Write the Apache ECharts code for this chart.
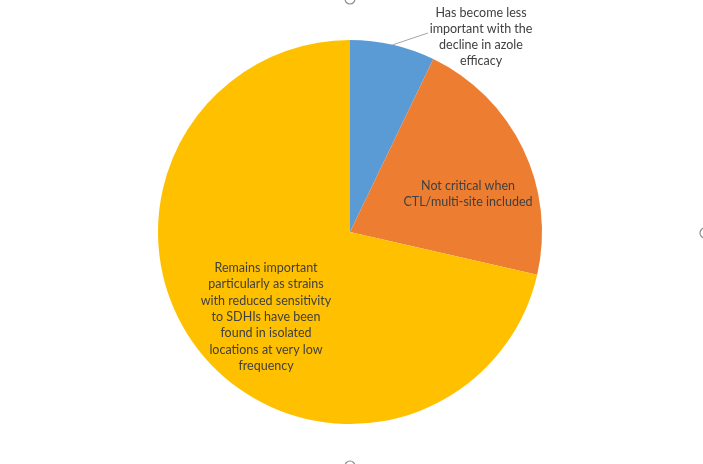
<!DOCTYPE html>
<html>
<head>
<meta charset="utf-8">
<script src="https://cdn.jsdelivr.net/npm/echarts@6/dist/echarts.min.js"></script>
<style>
  html, body { margin: 0; padding: 0; background: #fff; }
  #chart { width: 703px; height: 464px; }
</style>
</head>
<body>
<div id="chart"></div>
<script>
// answer categories and counts
const categories = [
  'Has become less\nimportant with the\ndecline in azole\nefficacy',
  'Not critical when\nCTL/multi-site included',
  'Remains important\nparticularly as strains\nwith reduced sensitivity\nto SDHIs have been\nfound in isolated\nlocations at very low\nfrequency'
];
const counts = [1, 3, 10];
const colors = ['#5B9BD5', '#ED7D31', '#FFC000'];

// where each label sits (centre of the text block)
const labelSpots = [[481, 37], [468, 194], [266, 317]];

const chart = echarts.init(document.getElementById('chart'));

chart.setOption({
  animation: false,
  series: [{
    type: 'pie',
    center: [350, 232],
    radius: 192,
    startAngle: 90,
    clockwise: true,
    label: {
      position: 'inside',
      color: '#404040',
      fontFamily: 'Lato',
      fontSize: 12.5,
      lineHeight: 16.3,
      align: 'center',
      formatter: '{b}'
    },
    labelLine: { show: false },
    labelLayout: function (p) {
      const s = labelSpots[p.dataIndex];
      const out = {
        x: s[0],
        y: s[1],
        align: 'center',
        verticalAlign: 'middle'
      };
      // straight leader from the slice edge to the left of the second text line
      if (p.dataIndex === 0 && p.labelLinePoints) {
        out.labelLinePoints = [p.labelLinePoints[0], [s[0] - 53, s[1] - 4]];
      }
      return out;
    },
    data: categories.map((name, i) => {
      const item = { name: name, value: counts[i], itemStyle: { color: colors[i] } };
      if (i === 0) {
        item.label = { position: 'outside' };
        item.labelLine = { show: true, length: 6, length2: 20, lineStyle: { color: '#a6a6a6', width: 1 } };
      }
      return item;
    })
  }],
  graphic: [
    { type: 'circle', shape: { cx: 350, cy: -1, r: 5 }, style: { fill: '#fff', stroke: '#8c8c8c', lineWidth: 1.2 } },
    { type: 'circle', shape: { cx: 705, cy: 233, r: 5 }, style: { fill: '#fff', stroke: '#8c8c8c', lineWidth: 1.2 } },
    { type: 'circle', shape: { cx: 350, cy: 466, r: 5 }, style: { fill: '#fff', stroke: '#8c8c8c', lineWidth: 1.2 } }
  ]
});
</script>
</body>
</html>
